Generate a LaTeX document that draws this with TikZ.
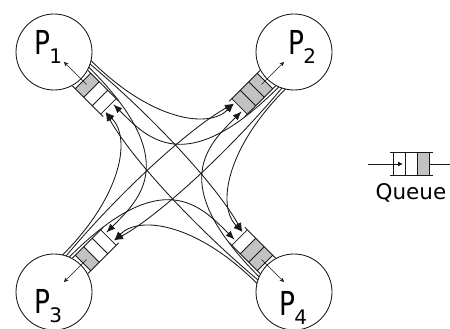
\documentclass[tikz,border=0pt]{standalone}
\usepackage{fontspec}
\setmainfont{DejaVu Sans}
\usetikzlibrary{arrows.meta}
\begin{document}
\begin{tikzpicture}
[x=1pt,y=1pt,line width=0.85pt,draw=black!90,%
  proc/.style={shape=circle,draw,minimum size=76pt,inner sep=0pt},%
  pname/.style={anchor=base west,inner sep=0pt,font=\fontsize{33}{33}\selectfont},%
  slot/.style={fill=black!24},%
  msg/.style={-{Latex[length=9pt,width=7pt]}},%
  deliver/.style={-{Stealth[length=4.5pt,width=4pt]},line width=0.55pt}]
\useasboundingbox (0,0) rectangle (450,329);
\node[proc] (p1) at (54,277) {};
\node[proc] (p2) at (294,277) {};
\node[proc] (p3) at (54,37) {};
\node[proc] (p4) at (294,37) {};
\node[pname] (p1-name) at ([shift={(-20,-3)}]p1.center) {\scalebox{0.8}[1]{P}\kern-1pt\raisebox{-9pt}{\fontsize{20}{20}\selectfont 1}};
\node[pname] (p2-name) at ([shift={(-6,-3)}]p2.center) {\scalebox{0.8}[1]{P}\kern-1pt\raisebox{-9pt}{\fontsize{20}{20}\selectfont 2}};
\node[pname] (p3-name) at ([shift={(-20,-22)}]p3.center) {\scalebox{0.8}[1]{P}\kern-1pt\raisebox{-9pt}{\fontsize{20}{20}\selectfont 3}};
\node[pname] (p4-name) at ([shift={(-15,-24)}]p4.center) {\scalebox{0.8}[1]{P}\kern-1pt\raisebox{-9pt}{\fontsize{20}{20}\selectfont 4}};
\begin{scope}[shift={(p1.center)},rotate=-45]
  \fill[slot] (41,-11) rectangle (53,11);
  \draw (37,-11) -- (80.5,-11) (37,11) -- (80.5,11)
    (41,-11) -- (41,11) (53,-11) -- (53,11) (65,-11) -- (65,11) (77,-11) -- (77,11);
  \coordinate (p1-oa) at (32:38);
  \coordinate (p1-ob) at (26.5:38);
  \coordinate (p1-oc) at (21.5:38);
  \coordinate (p1-im) at (79,-6);
  \coordinate (p1-ip) at (79,5);
  \coordinate (p1-head) at (46,0);
  \coordinate (p1-sink) at (14,0);
\end{scope}
\begin{scope}[shift={(p2.center)},rotate=-135]
  \fill[slot] (41,-11) rectangle (77,11);
  \draw (37,-11) -- (80.5,-11) (37,11) -- (80.5,11)
    (41,-11) -- (41,11) (53,-11) -- (53,11) (65,-11) -- (65,11) (77,-11) -- (77,11);
  \coordinate (p2-oa) at (32:38);
  \coordinate (p2-ob) at (26.5:38);
  \coordinate (p2-oc) at (21.5:38);
  \coordinate (p2-im) at (79,-6);
  \coordinate (p2-ip) at (79,5);
  \coordinate (p2-head) at (46,0);
  \coordinate (p2-sink) at (14,0);
\end{scope}
\begin{scope}[shift={(p3.center)},rotate=45]
  \fill[slot] (41,-11) rectangle (53,11);
  \draw (37,-11) -- (80.5,-11) (37,11) -- (80.5,11)
    (41,-11) -- (41,11) (53,-11) -- (53,11) (65,-11) -- (65,11) (77,-11) -- (77,11);
  \coordinate (p3-oa) at (32:38);
  \coordinate (p3-ob) at (26.5:38);
  \coordinate (p3-oc) at (21.5:38);
  \coordinate (p3-im) at (79,-6);
  \coordinate (p3-ip) at (79,5);
  \coordinate (p3-head) at (46,0);
  \coordinate (p3-sink) at (14,0);
\end{scope}
\begin{scope}[shift={(p4.center)},rotate=135]
  \fill[slot] (41,-11) rectangle (65,11);
  \draw (37,-11) -- (80.5,-11) (37,11) -- (80.5,11)
    (41,-11) -- (41,11) (53,-11) -- (53,11) (65,-11) -- (65,11) (77,-11) -- (77,11);
  \coordinate (p4-oa) at (32:38);
  \coordinate (p4-ob) at (26.5:38);
  \coordinate (p4-oc) at (21.5:38);
  \coordinate (p4-im) at (79,-6);
  \coordinate (p4-ip) at (79,5);
  \coordinate (p4-head) at (46,0);
  \coordinate (p4-sink) at (14,0);
\end{scope}
\draw[deliver] (p1-head) -- (p1-sink);
\draw[deliver] (p2-head) -- (p2-sink);
\draw[deliver] (p3-head) -- (p3-sink);
\draw[deliver] (p4-head) -- (p4-sink);
\draw[msg] (p1-oa) to[out=-45,in=-135,out distance=83,in distance=37] (p2-im);
\draw[msg] (p1-ob) to[out=-40,in=119,out distance=86,in distance=50] (p4-im);
\draw[msg] (p1-oc) to[out=-45,in=45,out distance=132,in distance=48] (p3-ip);
\draw[msg] (p2-oa) to[out=225,in=135,out distance=83,in distance=37] (p4-im);
\draw[msg] (p2-ob) to[out=230,in=29,out distance=86,in distance=50] (p3-im);
\draw[msg] (p2-oc) to[out=225,in=-45,out distance=132,in distance=48] (p1-ip);
\draw[msg] (p4-oa) to[out=135,in=45,out distance=83,in distance=37] (p3-im);
\draw[msg] (p4-ob) to[out=140,in=-61,out distance=86,in distance=50] (p1-im);
\draw[msg] (p4-oc) to[out=135,in=225,out distance=132,in distance=48] (p2-ip);
\draw[msg] (p3-oa) to[out=45,in=-45,out distance=83,in distance=37] (p1-im);
\draw[msg] (p3-ob) to[out=50,in=209,out distance=86,in distance=50] (p2-im);
\draw[msg] (p3-oc) to[out=45,in=135,out distance=132,in distance=48] (p4-ip);
\begin{scope}[shift={(470,165)},rotate=180]
  \fill[slot] (41,-11.5) rectangle (53,11.5);
  \draw (37,-11.5) -- (80.5,-11.5) (37,11.5) -- (80.5,11.5)
    (41,-11.5) -- (41,11.5) (53,-11.5) -- (53,11.5) (65,-11.5) -- (65,11.5) (77,-11.5) -- (77,11.5);
  \coordinate (lg-src) at (102,0);
  \coordinate (lg-tip) at (67,0);
  \coordinate (lg-head) at (41,0);
  \coordinate (lg-sink) at (18,0);
\end{scope}
\draw[-{Latex[length=5pt,width=5pt]}] (lg-src) -- (lg-tip);
\draw (lg-head) -- (lg-sink);
\node[anchor=base,inner sep=0pt,font=\fontsize{21.5}{21.5}\selectfont] (lg-name) at (411,129) {Queue};
\end{tikzpicture}
\end{document}
